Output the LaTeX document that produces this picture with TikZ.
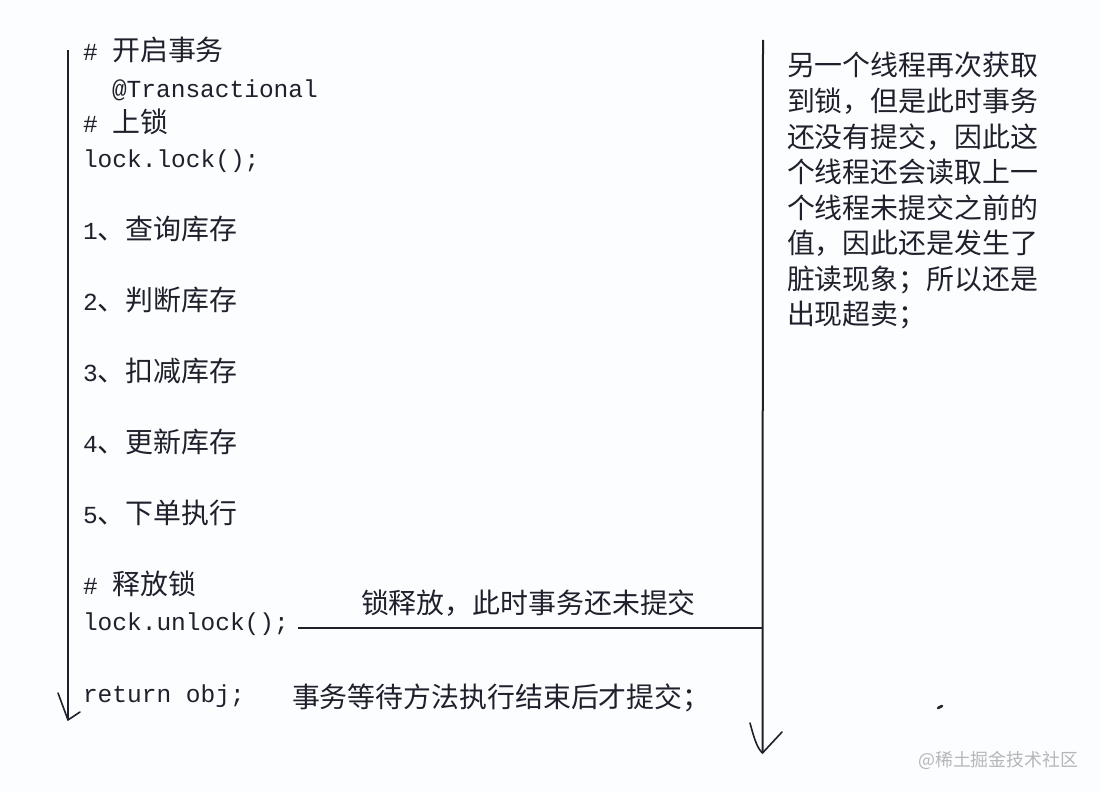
\documentclass[tikz,border=0pt]{standalone}
\usepackage{fontspec}
\setmainfont{Liberation Mono}
\newfontfamily\cjk{Noto Sans CJK SC}
\newfontfamily\code{Liberation Mono}
\newcommand{\cn}[1]{{\fontsize{27.9}{30}\selectfont\cjk #1}}
\newcommand{\cd}[1]{{\fontsize{24.5}{30}\selectfont\code #1}}
\definecolor{ink}{HTML}{20202C}
\definecolor{paper}{HTML}{FBFDFE}
\definecolor{mark}{HTML}{B4B6BA}
\tikzset{
  txt/.style={anchor=base west,inner sep=0pt,outer sep=0pt,text=ink},
  rule/.style={draw=ink,line width=2pt},
  barb/.style={draw=ink,line width=1.6pt,line cap=round,line join=round}
}
\begin{document}
\begin{tikzpicture}[x=1pt,y=-1pt]
\fill[paper] (0,0) rectangle (1100,792);
\useasboundingbox (0,0) rectangle (1100,792);
% left column
\node[txt] (l1) at (83,60) {\cd{\#}\hspace{14.5pt}\cn{开启事务}};
\node[txt] (l2) at (112,97) {\cd{@Transactional}};
\node[txt] (l3) at (83,132) {\cd{\#}\hspace{14.5pt}\cn{上锁}};
\node[txt] (l4) at (83,167) {\cd{lock.lock();}};
\node[txt] (s1) at (83,239) {\cd{1}\cn{、查询库存}};
\node[txt] (s2) at (83,310) {\cd{2}\cn{、判断库存}};
\node[txt] (s3) at (83,381) {\cd{3}\cn{、扣减库存}};
\node[txt] (s4) at (83,452) {\cd{4}\cn{、更新库存}};
\node[txt] (s5) at (83,523) {\cd{5}\cn{、下单执行}};
\node[txt] (l5) at (83,594) {\cd{\#}\hspace{14.5pt}\cn{释放锁}};
\node[txt] (l6) at (83,630) {\cd{lock.unlock();}};
\node[txt] (l7) at (83,702) {\cd{return obj;}};
% middle labels
\node[txt] (m1) at (361,613) {\cn{锁释放，此时事务还未提交}};
\node[txt] (m2) at (292,707) {\cn{事务等待方法执行结束后才提交；}};
% right column
\node[txt] (r1) at (787,76) {\cn{另一个线程再次获取}};
\node[txt] (r2) at (787,111.5) {\cn{到锁，但是此时事务}};
\node[txt] (r3) at (787,147) {\cn{还没有提交，因此这}};
\node[txt] (r4) at (787,182.5) {\cn{个线程还会读取上一}};
\node[txt] (r5) at (787,218) {\cn{个线程未提交之前的}};
\node[txt] (r6) at (787,253.5) {\cn{值，因此还是发生了}};
\node[txt] (r7) at (787,289) {\cn{脏读现象；所以还是}};
\node[txt] (r8) at (787,324.5) {\cn{出现超卖；}};
% watermark
\node[anchor=base west,inner sep=0pt,text=mark] (wm) at (918,766) {{\fontsize{17.9}{20}\selectfont\cjk @稀土掘金技术社区}};
% timelines
\coordinate (lt) at (68,50);
\coordinate (lb) at (68,720);
\coordinate (la) at (58,693);
\coordinate (lc) at (80,712);
\coordinate (rt) at (763,40);
\coordinate (rb) at (762.5,753);
\coordinate (ra) at (750,723);
\coordinate (rc) at (782,732);
\coordinate (hl) at (298,628);
\coordinate (hr) at (763,628);
\draw[rule] (lt) -- (lb);
\draw[barb] (la) -- (lb) -- (lc);
\draw[rule] (rt) -- (rb);
\draw[barb] (ra) .. controls (754,738) and (757,748) .. (rb) -- (rc);
\draw[rule] (hl) -- (hr);
\draw[draw=ink,line width=2.5pt,line cap=round] (938,708) -- (942,706);
\end{tikzpicture}
\end{document}
